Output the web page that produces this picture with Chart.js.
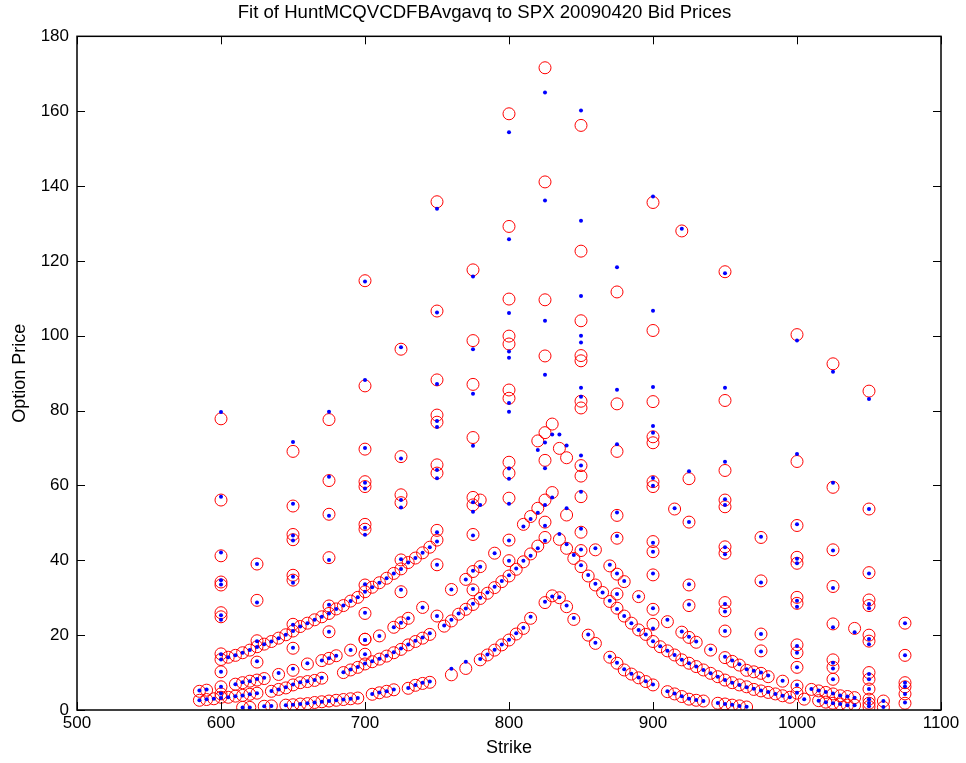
<!DOCTYPE html>
<html><head><meta charset="utf-8">
<script src="https://cdn.jsdelivr.net/npm/chart.js@4.4.1/dist/chart.umd.min.js"></script>
<style>html,body{margin:0;padding:0;background:#fff;}#wrap{width:966px;height:763px;}</style>
</head><body><div id="wrap"><canvas id="c" width="966" height="763"></canvas></div>
<script>
const titleText = 'Fit of HuntMCQVCDFBAvgavq to SPX 20090420 Bid Prices';
const xTickValues = [500,600,700,800,900,1000,1100];
const yTickValues = [0,20,40,60,80,100,120,140,160,180];

// Nearest maturity (peak ~30)
const strikesA = [615,620,630,635,645,650,655,660,665,670,675,680,685,690,695,705,710,715,720,730,735,740,745,760,770,780,785,790,795,800,805,810,815,825,830,835,840,845,855,860,870,875,880,885,890,895,900,910,915,920,925,930,935,945,950,955,960,965];
const bidA = [0.7,0.7,1.0,1.1,1.3,1.4,1.6,1.7,2.0,2.2,2.4,2.6,2.8,3.0,3.2,4.2,4.6,5.0,5.4,5.8,6.6,7.1,7.4,9.4,11.1,13.4,14.7,16.0,17.4,18.7,20.3,21.8,24.5,28.7,30.5,30.0,27.6,24.2,20.0,17.8,14.1,12.5,10.7,9.6,8.6,7.6,6.7,4.9,4.3,3.6,2.9,2.6,2.4,1.8,1.6,1.3,1.1,0.8];
const fitA = [0.7,0.7,1.0,1.1,1.3,1.4,1.6,1.8,2.0,2.2,2.4,2.6,2.8,3.0,3.2,4.3,4.7,5.0,5.5,5.9,6.7,7.3,7.6,11.0,12.9,13.6,14.8,16.1,17.5,18.8,20.5,22.0,24.9,28.9,30.3,30.1,27.9,24.6,20.2,18.0,14.3,12.6,10.9,9.7,8.7,7.7,6.8,5.0,4.4,3.7,3.0,2.7,2.4,1.9,1.6,1.4,1.1,0.9];

// Second maturity (peak ~46)
const strikesB = [585,590,595,600,605,610,615,620,625,635,640,645,650,655,660,665,670,685,690,695,700,705,710,715,720,725,730,735,740,745,755,760,765,770,775,780,785,790,795,800,805,810,815,820,825,835,840,845,850,855,860,865,870,875,880,885,890,895,900,905,910,915,920,925,930,935,940,945,950,955,960,965,970,975,980,985,990,995,1005,1015,1020,1025,1030,1035,1040];
const bidB = [2.6,2.8,3.0,3.4,3.4,3.7,3.9,4.2,4.5,5.0,5.5,5.9,6.7,7.3,7.6,7.9,8.5,10.0,10.7,11.4,12.3,12.9,13.6,14.4,15.3,16.2,17.4,18.3,19.2,20.2,22.4,23.8,25.6,26.9,28.2,29.8,31.2,32.7,34.3,35.8,37.6,39.6,41.7,43.8,46.1,45.6,43.2,40.5,38.3,35.8,33.4,31.4,29.0,27.2,25.1,23.2,21.4,20.2,18.3,16.9,15.8,14.7,13.4,12.5,11.6,10.7,9.8,8.9,8.0,7.3,6.7,6.2,5.5,5.1,4.7,4.3,3.8,3.4,2.9,2.5,2.1,1.8,1.6,1.3,1.3];
const fitB = [2.6,2.9,3.0,3.2,3.4,3.7,3.9,4.2,4.5,5.1,5.5,6.1,6.8,7.4,7.7,8.0,8.6,10.1,10.8,11.5,12.4,13.0,13.7,14.5,15.4,16.4,17.5,18.5,19.4,20.5,22.6,24.1,25.8,27.1,28.4,30.0,31.4,32.9,34.5,36.0,37.8,39.9,41.2,43.2,45.2,47.0,44.3,41.4,38.7,36.1,33.7,31.4,29.2,27.0,25.1,23.2,21.4,20.2,18.4,17.0,15.8,14.7,13.4,12.5,11.6,10.7,9.8,8.9,8.0,7.3,6.7,6.1,5.7,5.2,4.8,4.3,3.8,3.4,2.9,2.5,2.1,1.8,1.6,1.3,1.3];

// Third maturity (peak ~58)
const strikesD = [585,590,600,610,615,620,625,630,660,670,675,680,690,700,710,720,725,730,740,760,770,775,780,790,800,810,815,820,825,830,840,860,870,875,880,890,900,910,920,925,930,940,950,955,960,965,970,975,980,990,1010,1015,1020,1025,1030,1035,1040];
const bidD = [5.0,5.3,6.2,6.9,7.3,7.7,8.0,8.4,12.3,13.2,13.8,14.5,16.0,18.9,19.8,22.1,23.3,24.5,27.4,32.2,34.9,37.0,38.3,41.9,45.4,49.6,51.7,53.9,56.1,58.1,52.1,42.8,38.5,36.3,34.3,30.3,26.9,23.6,20.8,19.4,18.1,16.0,14.0,13.0,12.0,10.6,10.2,9.8,8.9,7.7,5.5,5.1,4.7,4.3,3.8,3.6,3.3];
const fitD = [5.2,5.5,6.2,6.9,7.4,7.7,8.3,8.6,12.5,13.2,13.8,14.5,16.0,18.7,19.8,22.1,23.3,24.5,27.4,32.2,34.9,37.2,38.3,41.9,45.3,49.0,51.0,52.7,54.8,56.8,53.9,43.2,38.8,36.5,34.5,30.3,27.2,24.1,21.0,19.6,18.3,16.2,14.2,13.2,12.2,10.9,10.5,10.0,9.2,7.8,5.6,5.2,4.8,4.4,3.9,3.6,3.3];

// Fourth maturity (peak ~76)
const strikesC = [600,605,610,615,620,625,630,635,640,645,650,655,660,665,670,675,680,685,690,695,700,705,710,715,720,725,730,735,740,745,750,820,825,830,835,840];
const bidC = [13.5,14.1,14.6,15.3,16.0,16.9,17.6,18.3,19.2,20.1,21.1,22.3,23.2,24.1,24.9,25.8,27.0,27.9,29.1,30.1,31.6,32.8,34.0,35.2,36.5,37.7,39.4,40.6,42.0,43.5,45.4,71.9,74.1,76.4,69.9,67.4];
const fitC = [13.5,14.1,14.6,15.3,16.0,16.8,17.6,18.3,19.2,20.1,21.1,22.3,23.2,24.1,24.9,25.8,27.0,27.9,29.1,30.1,31.6,32.8,34.0,35.2,36.5,37.7,39.4,40.6,42.0,43.5,45.0,69.5,71.5,73.6,73.6,70.7];

// Other quoted strikes (longer maturities)
const strikesL = [600,600,600,600,600,600,600,600,600,600,625,625,625,625,640,650,650,650,650,650,650,650,650,650,675,675,675,675,675,675,700,700,700,700,700,700,700,700,700,700,700,725,725,725,725,725,725,750,750,750,750,750,750,750,750,750,750,775,775,775,775,775,775,775,775,780,800,800,800,800,800,800,800,800,800,800,800,825,825,825,825,825,825,850,850,850,850,850,850,850,850,850,850,850,850,875,875,875,875,875,875,900,900,900,900,900,900,900,900,900,900,900,915,920,925,925,925,925,950,950,950,950,950,950,950,950,950,950,975,975,975,975,1000,1000,1000,1000,1000,1000,1000,1000,1000,1000,1000,1000,1025,1025,1025,1025,1025,1025,1025,1025,1040,1050,1050,1050,1050,1050,1050,1050,1050,1050,1050,1050,1050,1050,1060,1060,1075,1075,1075,1075,1075,1075];
const bidL = [77.8,56.1,41.2,34.2,33.4,26.0,24.9,15.0,10.2,4.3,39.0,29.3,18.5,12.8,9.5,69.1,54.5,46.9,45.5,36.0,34.7,22.9,16.5,10.6,77.6,61.3,52.3,40.7,27.8,20.9,114.7,86.6,69.7,61.0,59.7,49.6,48.3,33.4,25.8,18.9,14.9,96.4,67.7,57.5,55.4,40.1,31.6,135.8,106.6,88.2,78.8,76.9,65.5,63.3,48.0,38.8,25.1,117.6,98.7,87.0,72.8,56.8,54.8,46.9,32.1,56.1,159.3,129.2,109.8,99.9,97.8,85.5,83.3,66.2,63.3,56.6,39.9,171.6,141.1,109.6,94.6,66.7,50.2,156.2,122.6,104.0,94.7,93.3,82.5,80.7,65.3,62.5,57.0,47.5,42.6,111.7,81.8,69.1,52.0,45.9,31.0,135.6,101.4,82.4,73.0,71.4,61.0,59.7,45.0,42.3,36.1,22.9,53.7,128.0,61.8,50.2,33.4,27.9,117.1,82.7,64.0,56.1,54.3,43.6,41.9,28.7,26.5,21.1,46.1,34.5,20.3,15.8,100.3,66.4,49.3,40.8,39.2,30.1,28.5,17.4,15.3,11.4,6.4,4.5,92.5,59.5,42.8,33.0,23.0,13.4,11.4,8.2,21.8,85.2,53.7,36.7,29.4,27.9,20.0,18.4,10.0,8.2,5.6,2.9,1.8,0.9,2.4,0.7,23.2,14.6,7.3,6.2,4.3,1.8];
const fitL = [79.6,57.0,42.1,34.7,33.5,25.3,24.1,14.9,10.2,4.4,39.0,28.7,18.4,13.0,9.9,71.6,55.1,46.6,45.3,35.6,34.0,22.8,16.6,11.0,79.7,62.3,51.9,40.1,28.1,20.9,114.5,88.2,70.0,60.7,59.2,48.7,46.8,33.6,26.0,18.7,14.9,96.9,67.2,56.1,54.1,40.3,32.1,133.9,106.2,87.1,77.2,75.6,64.1,61.9,47.5,38.8,25.1,115.8,96.4,84.5,70.6,55.5,53.0,46.6,32.3,54.8,154.4,125.8,106.1,95.8,94.1,82.0,79.7,64.5,61.8,55.1,39.9,165.0,136.1,104.0,89.6,64.6,49.2,160.2,130.7,110.6,100.0,98.2,86.1,83.7,68.0,65.3,58.3,48.4,42.9,118.3,85.6,71.0,52.8,46.5,31.0,137.2,106.7,86.3,75.9,74.1,62.0,59.9,44.7,42.3,36.5,21.8,53.9,128.6,63.8,50.2,33.6,28.2,116.7,86.1,66.3,56.3,54.8,43.5,41.6,28.3,26.3,21.1,46.3,34.1,20.3,15.6,98.7,68.4,49.6,40.4,39.2,29.2,27.6,17.1,15.3,11.4,6.7,4.6,90.4,60.7,42.6,32.6,22.1,12.6,11.1,8.2,20.8,83.1,53.7,36.5,28.3,27.2,19.0,17.6,9.6,8.2,5.6,2.9,1.9,1.0,2.4,0.8,23.2,14.6,7.3,6.3,4.3,2.0];

function pts(xs, ys){ return xs.map((x,i)=>({x:x, y:ys[i]})); }
const bidPoints = [].concat(pts(strikesA,bidA), pts(strikesB,bidB), pts(strikesC,bidC), pts(strikesD,bidD), pts(strikesL,bidL));
const fitPoints = [].concat(pts(strikesA,fitA), pts(strikesB,fitB), pts(strikesC,fitC), pts(strikesD,fitD), pts(strikesL,fitL));

const boxTicks = {
  id: 'boxTicks',
  afterDatasetsDraw(chart){
    const {ctx, chartArea:{left,right,top,bottom}, scales:{x,y}} = chart;
    ctx.save();
    ctx.strokeStyle = '#000';
    ctx.lineWidth = 1;
    const L = 8;
    ctx.beginPath();
    x.ticks.forEach(t => {
      const px = Math.round(x.getPixelForValue(t.value)) + 0.5;
      ctx.moveTo(px, bottom); ctx.lineTo(px, bottom - L);
      ctx.moveTo(px, top); ctx.lineTo(px, top + L);
    });
    y.ticks.forEach(t => {
      const py = Math.round(y.getPixelForValue(t.value)) + 0.5;
      ctx.moveTo(left, py); ctx.lineTo(left + L, py);
      ctx.moveTo(right, py); ctx.lineTo(right - L, py);
    });
    ctx.stroke();
    ctx.lineWidth = 1.5;
    ctx.strokeRect(left, top, right - left, bottom - top);
    ctx.restore();
  }
};

const fontFamily = 'Liberation Sans, Arial, sans-serif';
new Chart(document.getElementById('c'), {
  type: 'scatter',
  data: {
    datasets: [
      { label: 'Fit', data: fitPoints, pointStyle: 'circle', pointRadius: 2, pointBackgroundColor: '#0000ff', pointBorderWidth: 0, pointBorderColor: '#0000ff', showLine: false },
      { label: 'Bid', data: bidPoints, pointStyle: 'circle', pointRadius: 6, pointBackgroundColor: 'rgba(0,0,0,0)', pointBorderColor: '#ff0000', pointBorderWidth: 1, showLine: false }
    ]
  },
  options: {
    responsive: false,
    animation: false,
    devicePixelRatio: 1,
    layout: { padding: { left: 28, right: 25, top: 0, bottom: 0 } },
    plugins: {
      legend: { display: false },
      tooltip: { enabled: false },
      title: { display: true, text: titleText, color: '#000', font: { family: fontFamily, size: 18.6, weight: 'normal' }, padding: { top: 2, bottom: 12 } }
    },
    scales: {
      x: {
        type: 'linear', min: 500, max: 1100,
        afterBuildTicks: s => { s.ticks = xTickValues.map(v => ({value: v})); },
        afterFit: s => { s.height = 53; },
        grid: { display: false, drawTicks: false },
        border: { display: false },
        ticks: { color: '#000', padding: 3, font: { family: fontFamily, size: 17 }, callback: v => String(v) },
        title: { display: true, text: 'Strike', color: '#000', font: { family: fontFamily, size: 18 }, padding: { top: 0, bottom: 4 } }
      },
      y: {
        type: 'linear', min: 0, max: 180,
        afterBuildTicks: s => { s.ticks = yTickValues.map(v => ({value: v})); },
        afterFit: s => { s.width = 49; },
        grid: { display: false, drawTicks: false },
        border: { display: false },
        ticks: { color: '#000', padding: 8, font: { family: fontFamily, size: 17 }, callback: v => String(v) },
        title: { display: true, text: 'Option Price', color: '#000', font: { family: fontFamily, size: 18 }, padding: { top: -19, bottom: 0 } }
      }
    }
  },
  plugins: [boxTicks]
});
</script>
</body></html>
